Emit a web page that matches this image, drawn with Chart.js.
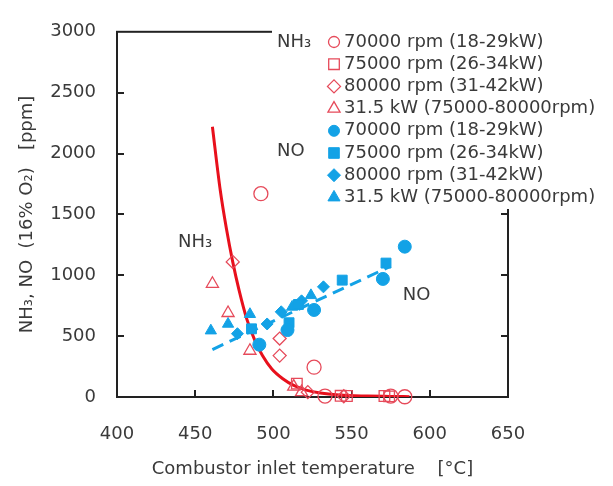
<!DOCTYPE html>
<html>
<head>
<meta charset="utf-8">
<script src="https://cdn.jsdelivr.net/npm/chart.js@4.4.1/dist/chart.umd.min.js"></script>
<style>
  html, body { margin: 0; padding: 0; background: #fff; }
  #wrap { width: 613px; height: 486px; }
</style>
</head>
<body>
<div id="wrap"><canvas id="myChart" width="613" height="486"></canvas></div>
<script>
// axis ticks
const xTicks = [400, 450, 500, 550, 600, 650];
const yTicks = [0, 500, 1000, 1500, 2000, 2500, 3000];

// NH3 (open red markers) [temp, ppm]
const nh3_70000 = [[492, 1670], [526, 245], [533, 8], [575, 8], [584, 2]];
const nh3_75000 = [[515, 110], [543, 10], [547, 8], [571, 8], [574, 5]];
const nh3_80000 = [[474, 1110], [504, 480], [504, 340], [522, 40], [545, 6]];
const nh3_315kw = [[461, 930], [471, 690], [485, 380], [513, 85], [518, 40]];

// NO (filled blue markers)
const no_70000 = [[491, 430], [509, 550], [526, 715], [570, 970], [584, 1235]];
const no_75000 = [[486, 560], [510, 610], [516, 760], [544, 960], [572, 1100]];
const no_80000 = [[477, 520], [496, 600], [505, 700], [518, 790], [532, 905]];
const no_315kw = [[460, 545], [471, 600], [485, 680], [512, 740], [524, 835]];

// fitted lines
const nh3Fit = [[461, 2220], [466, 1700], [470, 1380], [474, 1110], [478, 880], [483, 640], [488, 470],
  [493, 340], [499, 230], [506, 150], [513, 95], [521, 56], [530, 32], [542, 16], [560, 8], [574, 5], [587, 3]];
const noFit = [[461, 390], [575, 1075]];

const legendLabels = ['70000 rpm (18-29kW)', '75000 rpm (26-34kW)', '80000 rpm (31-42kW)', '31.5 kW (75000-80000rpm)'];
const markerStyles = ['circle', 'rect', 'rectRot', 'triangle'];

const RED = '#e64a5a';
const REDLINE = '#e8101c';
const BLUE = '#13a2e6';
const TEXT = '#3a3a3a';
const FONT = 'DejaVu Sans';

// marker radius per style, so the shapes come out about the same size
const plotRadius = { circle: 7, rect: 7.5, rectRot: 6.5, triangle: 7 };
const legendRadius = { circle: 5.5, rect: 7.5, rectRot: 6.5, triangle: 7 };

const pts = arr => arr.map(p => ({x: p[0], y: p[1]}));

function openSet(data, style) {
    return { type: 'scatter', data: pts(data), pointStyle: style, pointRadius: plotRadius[style],
        pointBorderColor: RED, pointBackgroundColor: 'rgba(0,0,0,0)', pointBorderWidth: 1.3, clip: false };
}
function filledSet(data, style) {
    return { type: 'scatter', data: pts(data), pointStyle: style, pointRadius: plotRadius[style] - 0.5,
        pointBorderColor: BLUE, pointBackgroundColor: BLUE, pointBorderWidth: 1, clip: false };
}

const datasets = [
    filledSet(no_70000, 'circle'),
    filledSet(no_75000, 'rect'),
    filledSet(no_80000, 'rectRot'),
    filledSet(no_315kw, 'triangle'),
    { type: 'line', data: pts(noFit), borderColor: BLUE, borderWidth: 3, borderDash: [12, 7],
      pointRadius: 0, fill: false },
    openSet(nh3_70000, 'circle'),
    openSet(nh3_75000, 'rect'),
    openSet(nh3_80000, 'rectRot'),
    openSet(nh3_315kw, 'triangle'),
    { type: 'line', data: pts(nh3Fit), borderColor: REDLINE, borderWidth: 3, pointRadius: 0,
      cubicInterpolationMode: 'monotone', fill: false }
];

// frame with inward ticks, legend, in-plot labels
const decorPlugin = {
    id: 'decor',
    beforeDatasetsDraw(chart) {
        const {ctx, chartArea: a, scales} = chart;
        ctx.save();
        ctx.strokeStyle = '#222';
        ctx.lineWidth = 2;
        ctx.strokeRect(a.left, a.top, a.right - a.left, a.bottom - a.top);
        ctx.beginPath();
        yTicks.slice(1, -1).forEach(v => {
            const y = Math.round(scales.y.getPixelForValue(v));
            ctx.moveTo(a.left, y); ctx.lineTo(a.left + 7, y);
            ctx.moveTo(a.right, y); ctx.lineTo(a.right - 7, y);
        });
        xTicks.slice(1, -1).forEach(v => {
            const x = Math.round(scales.x.getPixelForValue(v));
            ctx.moveTo(x, a.bottom); ctx.lineTo(x, a.bottom - 7);
        });
        ctx.stroke();
        ctx.restore();
    },
    afterDraw(chart) {
        const {ctx, scales} = chart;
        ctx.save();
        // legend box
        ctx.fillStyle = '#fff';
        ctx.fillRect(272, 27, 341, 182);
        ctx.font = '18px "' + FONT + '"';
        ctx.textBaseline = 'middle';
        ctx.textAlign = 'left';
        ctx.fillStyle = TEXT;
        ctx.fillText('NH\u2083', 277, 42);
        ctx.fillText('NO', 277, 151);
        for (let i = 0; i < 8; i++) {
            const y = 42 + i * 22.2;
            const style = markerStyles[i % 4];
            const open = i < 4;
            ctx.strokeStyle = open ? RED : BLUE;
            ctx.fillStyle = open ? 'rgba(0,0,0,0)' : BLUE;
            ctx.lineWidth = open ? 1.3 : 1;
            Chart.helpers.drawPoint(ctx, {pointStyle: style, radius: legendRadius[style], borderWidth: ctx.lineWidth}, 334, y);
            ctx.fillStyle = TEXT;
            ctx.fillText(legendLabels[i % 4], 344, y);
        }
        // in-plot labels
        ctx.textAlign = 'center';
        ctx.fillText('NH\u2083', scales.x.getPixelForValue(450), scales.y.getPixelForValue(1270));
        ctx.fillText('NO', scales.x.getPixelForValue(591.5), scales.y.getPixelForValue(835));
        ctx.restore();
    }
};

const ctx = document.getElementById('myChart').getContext('2d');
const chart = new Chart(ctx, {
    type: 'scatter',
    data: { datasets: datasets },
    options: {
        responsive: false,
        animation: false,
        layout: { padding: { top: 20, right: 105, left: 0, bottom: 0 } },
        plugins: { legend: { display: false }, tooltip: { enabled: false } },
        scales: {
            x: {
                type: 'linear', min: 400, max: 650,
                afterBuildTicks: s => { s.ticks = xTicks.map(v => ({value: v})); },
                afterFit: s => { s.height = 89; },
                grid: { display: false, drawTicks: false },
                border: { display: false },
                ticks: { color: TEXT, font: { family: FONT, size: 18 }, padding: 27, maxRotation: 0,
                         callback: v => String(v) },
                title: { display: true, text: 'Combustor inlet temperature    [\u00b0C]', color: TEXT,
                         font: { family: FONT, size: 18 }, padding: { top: 0, bottom: 6 } }
            },
            y: {
                type: 'linear', min: 0, max: 3000,
                afterBuildTicks: s => { s.ticks = yTicks.map(v => ({value: v})); },
                afterFit: s => { s.width = 117; },
                grid: { display: false, drawTicks: false },
                border: { display: false },
                ticks: { color: TEXT, font: { family: FONT, size: 18 }, padding: 21,
                         callback: v => String(v) },
                title: { display: true, text: 'NH\u2083, NO  (16% O\u2082)   [ppm]', color: TEXT,
                         font: { family: FONT, size: 18 }, padding: { top: 17, bottom: 0 } }
            }
        }
    },
    plugins: [decorPlugin]
});
</script>
</body>
</html>
